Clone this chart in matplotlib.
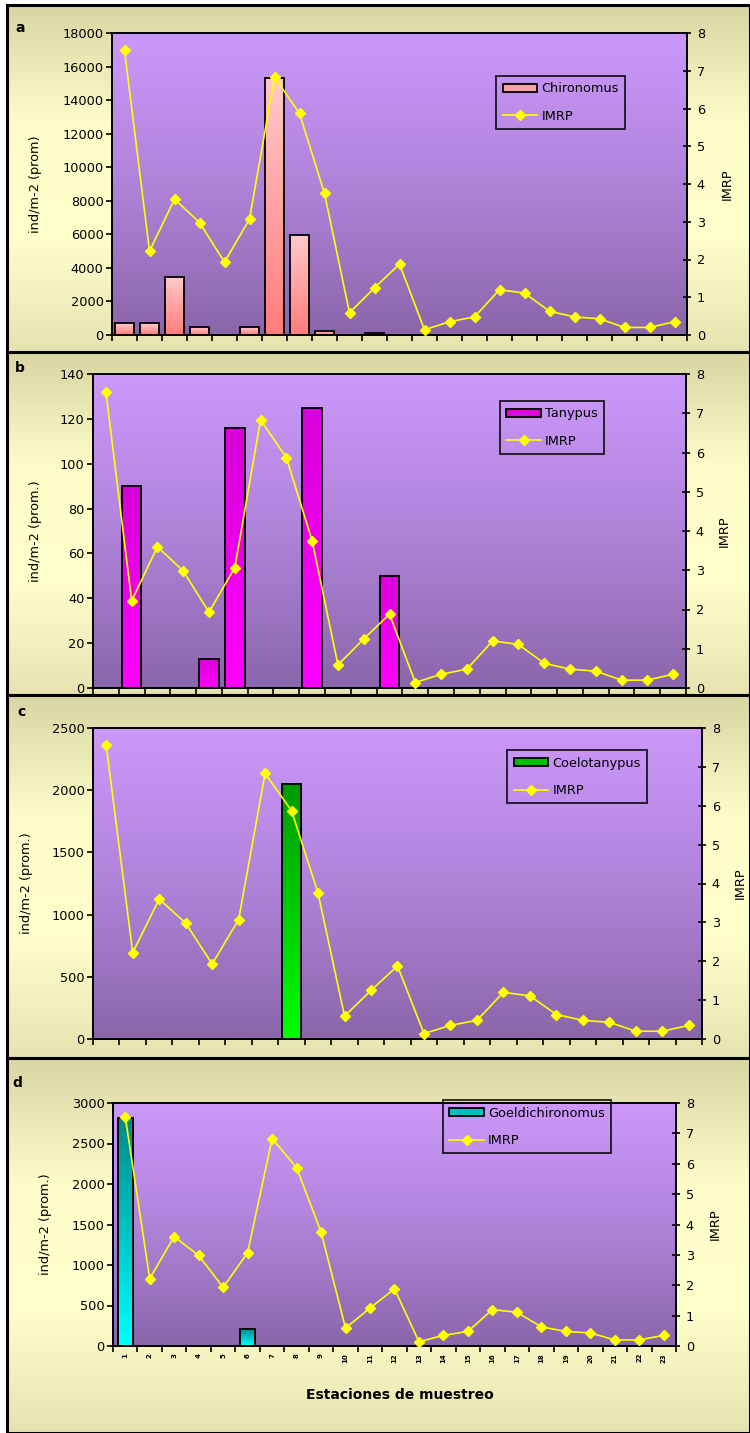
import numpy as np
import matplotlib
matplotlib.use('Agg')
import matplotlib.pyplot as plt
from matplotlib.patches import Patch, Rectangle
from matplotlib.lines import Line2D
from matplotlib.colors import LinearSegmentedColormap

plt.rcParams['font.family'] = ['DejaVu Sans']

# ---------------- data ----------------
stations = [str(i) for i in range(1, 24)]
imrp = [7.55, 2.22, 3.60, 2.98, 1.93, 3.07, 6.83, 5.87, 3.75, 0.59, 1.25, 1.88,
        0.14, 0.35, 0.48, 1.20, 1.11, 0.63, 0.48, 0.43, 0.20, 0.20, 0.35]
chironomus = [700, 700, 3470, 460, 0, 460, 15330, 5940, 240, 0, 100, 0,
              0, 0, 0, 0, 0, 0, 0, 0, 0, 0, 0]
tanypus = [0, 90, 0, 0, 12.8, 116, 0, 0, 125, 0, 0, 50,
           0, 0, 0, 0, 0, 0, 0, 0, 0, 0, 0]
coelotanypus = [0, 0, 0, 0, 0, 0, 0, 2050, 0, 0, 0, 0,
                0, 0, 0, 0, 0, 0, 0, 0, 0, 0, 0]
goeldichironomus = [2810, 0, 0, 0, 0, 210, 0, 0, 0, 0, 0, 0,
                    0, 0, 0, 0, 0, 0, 0, 0, 0, 0, 0]

left_ticks_a = [0, 2000, 4000, 6000, 8000, 10000, 12000, 14000, 16000, 18000]
left_ticks_b = [0, 20, 40, 60, 80, 100, 120, 140]
left_ticks_c = [0, 500, 1000, 1500, 2000, 2500]
left_ticks_d = [0, 500, 1000, 1500, 2000, 2500, 3000]
right_ticks = [0, 1, 2, 3, 4, 5, 6, 7, 8]

W, H = 750, 1433
fig = plt.figure(figsize=(W / 100, H / 100), dpi=100)
fig.patch.set_facecolor('white')

def fx(px):
    return px / W

def fy(py):
    return 1 - py / H

FS = 9.3

# ---------------- panel backgrounds ----------------
bg_cmap = LinearSegmentedColormap.from_list(
    'bg', ['#D8D5A3', '#FDFCC8', '#FFFFCC', '#E6E3B0'])
panel_rows = [(5, 352), (352, 695), (695, 1058), (1058, 1433)]
for (t, b) in panel_rows:
    bax = fig.add_axes([fx(7), fy(b), 1 - fx(7), (b - t) / H])
    grad = np.linspace(0, 1, 256).reshape(-1, 1)
    bax.imshow(grad, cmap=bg_cmap, aspect='auto', extent=[0, 1, 0, 1],
               origin='upper')
    bax.set_xlim(0, 1)
    bax.set_ylim(0, 1)
    bax.set_axis_off()
    bax.add_patch(Rectangle((0, 0), 1, 1, transform=bax.transAxes,
                            fill=False, edgecolor='black', lw=2.2,
                            clip_on=False))

plot_cmap = LinearSegmentedColormap.from_list('pl', ['#CC98FB', '#B083DA', '#8A66AA'])

panels = [
    dict(letter='a', rect=(112, 33, 687, 335), vals=chironomus, name='Chironomus',
         ymax=18000, yt=left_ticks_a, ylabel='ind/m-2 (prom)',
         top='#FFCACA', bot='#FF7C7C', leg='#F4A4A4', width=0.74,
         legpos=(0.668, 0.858), letpos=(15, 28), ylx=35, rlx=727, labels=False),
    dict(letter='b', rect=(93, 374, 686, 688), vals=tanypus, name='Tanypus',
         ymax=140, yt=left_ticks_b, ylabel='ind/m-2 (prom.)',
         top='#D800D8', bot='#FF00FF', leg='#E000E0', width=0.76,
         legpos=(0.686, 0.914), letpos=(15, 368), ylx=35, rlx=724, labels=False),
    dict(letter='c', rect=(93, 728, 702, 1039), vals=coelotanypus, name='Coelotanypus',
         ymax=2500, yt=left_ticks_c, ylabel='ind/m-2 (prom.)',
         top='#009A00', bot='#00FF00', leg='#00C000', width=0.74,
         legpos=(0.680, 0.929), letpos=(17, 712), ylx=27, rlx=740, labels=False),
    dict(letter='d', rect=(113, 1103, 676, 1346), vals=goeldichironomus, name='Goeldichironomus',
         ymax=3000, yt=left_ticks_d, ylabel='ind/m-2 (prom.)',
         top='#008A8A', bot='#00FFFF', leg='#00BFBF', width=0.62,
         legpos=(0.586, 1.012), letpos=(12, 1083), ylx=45, rlx=715, labels=True),
]

x = np.arange(1, len(stations) + 1)

for p in panels:
    l, t, r, b = p['rect']
    ax = fig.add_axes([fx(l), fy(b), (r - l) / W, (b - t) / H])
    ax.patch.set_visible(False)
    grad = np.linspace(0, 1, 256).reshape(-1, 1)
    ax.imshow(grad, cmap=plot_cmap, aspect='auto', extent=[0, 1, 0, 1],
              transform=ax.transAxes, origin='upper', zorder=0)

    bar_cmap = LinearSegmentedColormap.from_list('bar', [p['top'], p['bot']])
    bars = ax.bar(x, p['vals'], width=p['width'], facecolor='none',
                  edgecolor='black', linewidth=1.3, zorder=3)
    for rect, v in zip(bars, p['vals']):
        if v <= 0:
            rect.set_visible(False)
            continue
        x0 = rect.get_x()
        ax.imshow(grad, cmap=bar_cmap, aspect='auto', origin='upper',
                  extent=[x0, x0 + rect.get_width(), 0, rect.get_height()],
                  zorder=2.5)

    ax.set_xlim(0.5, len(stations) + 0.5)
    ax.set_ylim(0, p['ymax'])
    ax.set_yticks(p['yt'])
    ax.set_yticklabels([str(v) for v in p['yt']], fontsize=FS)
    ax.tick_params(axis='y', direction='out', length=4, width=1.2, pad=2)
    ax.set_xticks(np.arange(0.5, len(stations) + 1, 1.0), minor=True)
    ax.tick_params(axis='x', which='minor', direction='out', length=4, width=1.2)
    if p['labels']:
        ax.set_xticks(x)
        ax.set_xticklabels(stations, rotation=90, fontsize=5, fontweight='bold')
        ax.tick_params(axis='x', which='major', length=0, pad=5)
    else:
        ax.set_xticks([])
    for s in ax.spines.values():
        s.set_linewidth(1.3)

    ax2 = ax.twinx()
    ax2.plot(x, imrp, color='#FFFF00', lw=1.2, marker='D', markersize=4.8,
             markerfacecolor='#FFFF00', markeredgecolor='#FFFF00', zorder=4)
    ax2.set_ylim(0, 8)
    ax2.set_yticks(right_ticks)
    ax2.set_yticklabels([str(v) for v in right_ticks], fontsize=FS)
    ax2.tick_params(axis='y', direction='inout', length=6, width=1.2, pad=4)
    for s in ax2.spines.values():
        s.set_linewidth(1.3)

    handles = [Patch(facecolor=p['leg'], edgecolor='black', linewidth=1.3),
               Line2D([], [], color='#FFFF00', lw=1.2, marker='D', markersize=4.8,
                      markerfacecolor='#FFFF00', markeredgecolor='#FFFF00')]
    leg = ax2.legend(handles, [p['name'], 'IMRP'], loc='upper left',
                     bbox_to_anchor=p['legpos'], borderaxespad=0, fontsize=FS,
                     frameon=True, fancybox=False,
                     handlelength=2.7, handleheight=0.55, labelspacing=1.1,
                     borderpad=0.5, handletextpad=0.3)
    leg.get_frame().set_facecolor('none')
    leg.get_frame().set_edgecolor('black')
    leg.get_frame().set_linewidth(1.4)

    fig.text(fx(p['ylx']), fy((t + b) / 2), p['ylabel'], rotation=90,
             ha='center', va='center', fontsize=FS)
    fig.text(fx(p['letpos'][0]), fy(p['letpos'][1]), p['letter'],
             fontsize=10, fontweight='bold', ha='left', va='center')
    fig.text(fx(p['rlx']), fy((t + b) / 2), 'IMRP', rotation=90,
             fontsize=FS, ha='center', va='center')

fig.text(fx(400), fy(1395), 'Estaciones de muestreo', fontsize=10,
         fontweight='bold', ha='center', va='center')

fig.savefig('out.png', dpi=100)
